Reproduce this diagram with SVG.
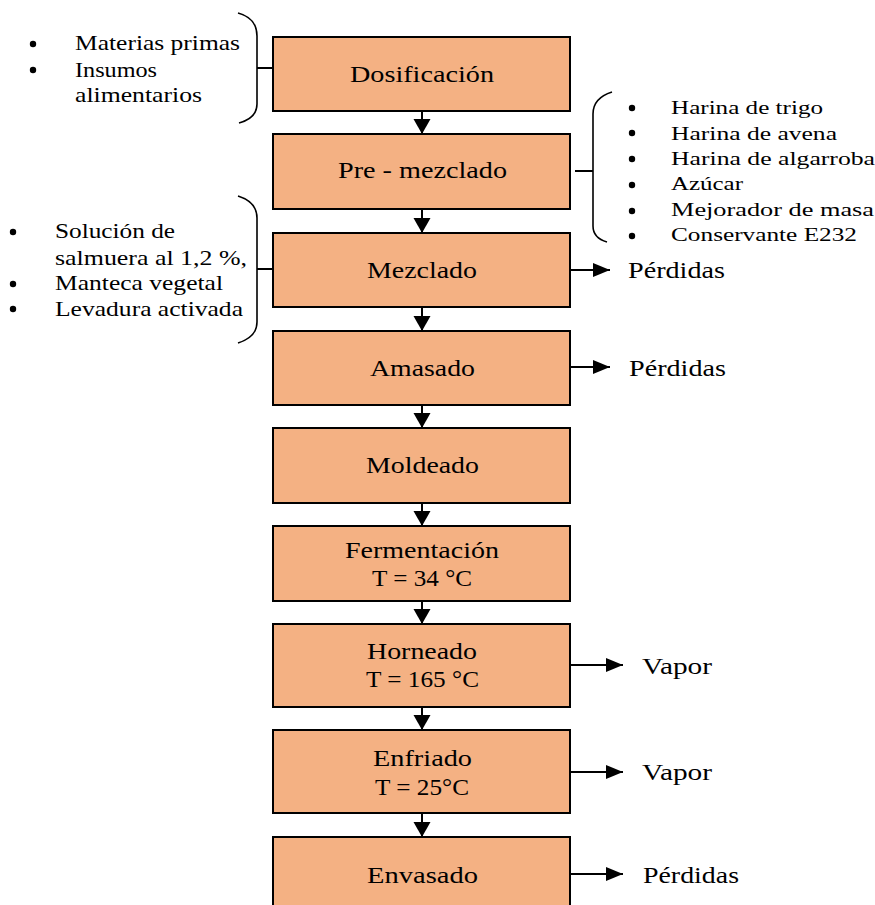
<svg xmlns="http://www.w3.org/2000/svg" width="875" height="905" viewBox="0 0 875 905">
  <style>
    .box { fill: #F4B183; stroke: #000; stroke-width: 2; }
    .t { font-family: "Liberation Serif", "Times New Roman", Times, serif; font-size: 23.5px; fill: #000; }
    .out { font-size: 22.5px; }
    .lst { font-size: 21.5px; }
    .lst2 { font-size: 19px; }
    .ln { stroke: #000; stroke-width: 2; fill: none; }
    .brace { stroke: #000; stroke-width: 1.6; fill: none; }
    .dot { fill: #000; }
  </style>
  <defs>
    <marker id="headDown" markerUnits="userSpaceOnUse" markerWidth="18" markerHeight="18" refX="15" refY="8.5" orient="auto">
      <path d="M0,0 L15,8.5 L0,17 Z" fill="#000"/>
    </marker>
    <marker id="headSide" markerUnits="userSpaceOnUse" markerWidth="18" markerHeight="14" refX="17" refY="7" orient="auto">
      <path d="M0,0 L17,7 L0,14 Z" fill="#000"/>
    </marker>
  </defs>

  <rect width="875" height="905" fill="#fff"/>

  <!-- connectors -->
  <g id="connectors">
    <line class="ln" x1="422" y1="111" x2="422" y2="134" marker-end="url(#headDown)"/>
    <line class="ln" x1="422" y1="209" x2="422" y2="233" marker-end="url(#headDown)"/>
    <line class="ln" x1="422" y1="307" x2="422" y2="331" marker-end="url(#headDown)"/>
    <line class="ln" x1="422" y1="405" x2="422" y2="428" marker-end="url(#headDown)"/>
    <line class="ln" x1="422" y1="503" x2="422" y2="526" marker-end="url(#headDown)"/>
    <line class="ln" x1="422" y1="601" x2="422" y2="624" marker-end="url(#headDown)"/>
    <line class="ln" x1="422" y1="707" x2="422" y2="730" marker-end="url(#headDown)"/>
    <line class="ln" x1="422" y1="813" x2="422" y2="837" marker-end="url(#headDown)"/>

    <line class="ln" x1="570" y1="270" x2="610" y2="270" marker-end="url(#headSide)"/>
    <line class="ln" x1="570" y1="367" x2="610" y2="367" marker-end="url(#headSide)"/>
    <line class="ln" x1="570" y1="665" x2="623" y2="665" marker-end="url(#headSide)"/>
    <line class="ln" x1="570" y1="772" x2="623" y2="772" marker-end="url(#headSide)"/>
    <line class="ln" x1="570" y1="874" x2="623" y2="874" marker-end="url(#headSide)"/>

    <!-- braces -->
    <path class="brace" d="M238,13 Q257,18 257,36 V104 Q257,118 239,123"/>
    <line class="ln" x1="257" y1="68" x2="273" y2="68"/>
    <path class="brace" d="M612,92 Q593,98 593,114 V226 Q593,238 607,242"/>
    <line class="ln" x1="575" y1="171" x2="593" y2="171"/>
    <path class="brace" d="M238,196 Q257,202 257,218 V322 Q257,337 238,343"/>
    <line class="ln" x1="257" y1="269" x2="273" y2="269"/>
  </g>

  <!-- process steps -->
  <g id="dosificacion">
    <rect class="box" x="273" y="37" width="297" height="74"/>
    <text class="t" x="350" y="82" textLength="144" lengthAdjust="spacingAndGlyphs">Dosificación</text>
  </g>
  <g id="pre-mezclado">
    <rect class="box" x="273" y="134" width="297" height="75"/>
    <text class="t" x="338" y="178" textLength="169" lengthAdjust="spacingAndGlyphs">Pre - mezclado</text>
  </g>
  <g id="mezclado">
    <rect class="box" x="273" y="233" width="297" height="74"/>
    <text class="t" x="367" y="278" textLength="110" lengthAdjust="spacingAndGlyphs">Mezclado</text>
  </g>
  <g id="amasado">
    <rect class="box" x="273" y="331" width="297" height="74"/>
    <text class="t" x="370" y="376" textLength="105" lengthAdjust="spacingAndGlyphs">Amasado</text>
  </g>
  <g id="moldeado">
    <rect class="box" x="273" y="428" width="297" height="75"/>
    <text class="t" x="366" y="473" textLength="113" lengthAdjust="spacingAndGlyphs">Moldeado</text>
  </g>
  <g id="fermentacion">
    <rect class="box" x="273" y="526" width="297" height="75"/>
    <text class="t" x="345" y="558" textLength="154" lengthAdjust="spacingAndGlyphs">Fermentación</text>
    <text class="t" x="372" y="586" textLength="100" lengthAdjust="spacingAndGlyphs">T = 34 °C</text>
  </g>
  <g id="horneado">
    <rect class="box" x="273" y="624" width="297" height="83"/>
    <text class="t" x="367" y="659" textLength="110" lengthAdjust="spacingAndGlyphs">Horneado</text>
    <text class="t" x="366" y="687" textLength="113" lengthAdjust="spacingAndGlyphs">T = 165 °C</text>
  </g>
  <g id="enfriado">
    <rect class="box" x="273" y="730" width="297" height="83"/>
    <text class="t" x="373" y="766" textLength="99" lengthAdjust="spacingAndGlyphs">Enfriado</text>
    <text class="t" x="375" y="795" textLength="94" lengthAdjust="spacingAndGlyphs">T = 25°C</text>
  </g>
  <g id="envasado">
    <rect class="box" x="273" y="837" width="297" height="76"/>
    <text class="t" x="367" y="883" textLength="111" lengthAdjust="spacingAndGlyphs">Envasado</text>
  </g>

  <!-- outputs -->
  <g id="salida-mezclado">
    <text class="t out" x="628" y="278" textLength="97" lengthAdjust="spacingAndGlyphs">Pérdidas</text>
  </g>
  <g id="salida-amasado">
    <text class="t out" x="629" y="376" textLength="97" lengthAdjust="spacingAndGlyphs">Pérdidas</text>
  </g>
  <g id="salida-horneado">
    <text class="t out" x="642" y="674" textLength="70" lengthAdjust="spacingAndGlyphs">Vapor</text>
  </g>
  <g id="salida-enfriado">
    <text class="t out" x="642" y="780" textLength="70" lengthAdjust="spacingAndGlyphs">Vapor</text>
  </g>
  <g id="salida-envasado">
    <text class="t out" x="643" y="883" textLength="96" lengthAdjust="spacingAndGlyphs">Pérdidas</text>
  </g>

  <!-- inputs -->
  <g id="entrada-dosificacion">
    <circle class="dot" cx="33" cy="44" r="3.2"/>
    <circle class="dot" cx="33" cy="70" r="3.2"/>
    <text class="t lst" x="75" y="50" textLength="165" lengthAdjust="spacingAndGlyphs">Materias primas</text>
    <text class="t lst" x="75" y="77" textLength="82" lengthAdjust="spacingAndGlyphs">Insumos</text>
    <text class="t lst" x="75" y="102" textLength="127" lengthAdjust="spacingAndGlyphs">alimentarios</text>
  </g>
  <g id="entrada-pre-mezclado">
    <circle class="dot" cx="632" cy="108" r="3.2"/>
    <circle class="dot" cx="632" cy="133" r="3.2"/>
    <circle class="dot" cx="632" cy="159" r="3.2"/>
    <circle class="dot" cx="632" cy="185" r="3.2"/>
    <circle class="dot" cx="632" cy="211" r="3.2"/>
    <circle class="dot" cx="632" cy="236" r="3.2"/>
    <text class="t lst2" x="671" y="114" textLength="152" lengthAdjust="spacingAndGlyphs">Harina de trigo</text>
    <text class="t lst2" x="671" y="139.5" textLength="166" lengthAdjust="spacingAndGlyphs">Harina de avena</text>
    <text class="t lst2" x="671" y="165" textLength="204" lengthAdjust="spacingAndGlyphs">Harina de algarroba</text>
    <text class="t lst2" x="671" y="190" textLength="72" lengthAdjust="spacingAndGlyphs">Azúcar</text>
    <text class="t lst2" x="671" y="215.5" textLength="203" lengthAdjust="spacingAndGlyphs">Mejorador de masa</text>
    <text class="t lst2" x="671" y="241" textLength="186" lengthAdjust="spacingAndGlyphs">Conservante E232</text>
  </g>
  <g id="entrada-mezclado">
    <circle class="dot" cx="13" cy="232" r="3.2"/>
    <circle class="dot" cx="13" cy="284" r="3.2"/>
    <circle class="dot" cx="13" cy="309" r="3.2"/>
    <text class="t lst" x="55" y="238" textLength="120" lengthAdjust="spacingAndGlyphs">Solución de</text>
    <text class="t lst" x="55" y="265" textLength="192" lengthAdjust="spacingAndGlyphs">salmuera al 1,2 %,</text>
    <text class="t lst" x="55" y="290" textLength="168" lengthAdjust="spacingAndGlyphs">Manteca vegetal</text>
    <text class="t lst" x="55" y="316" textLength="188" lengthAdjust="spacingAndGlyphs">Levadura activada</text>
  </g>
</svg>
